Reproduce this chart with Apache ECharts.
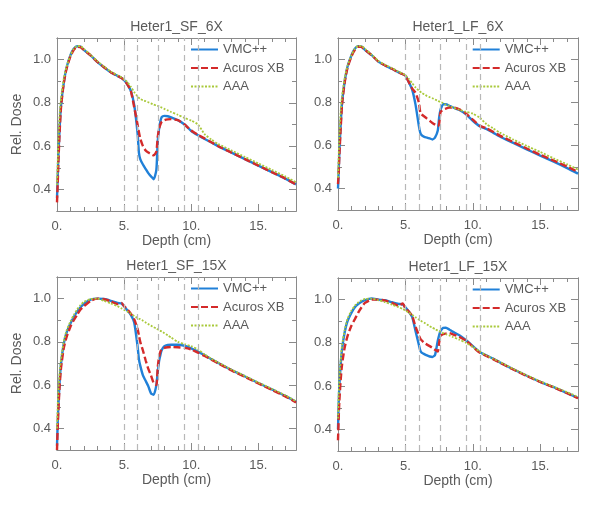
<!DOCTYPE html>
<html>
<head>
<meta charset="utf-8">
<script src="https://cdn.jsdelivr.net/npm/echarts@6/dist/echarts.min.js"></script>
<style>
  html, body { margin: 0; background: #fff; }
  #chart { width: 600px; height: 508px; }
</style>
</head>
<body>
<div id="chart"></div>
<script>
// depth grid (cm) shared by every curve
const depth = [0, 0.05, 0.1, 0.2, 0.3, 0.5, 0.7, 1.0, 1.25, 1.5, 1.75, 2.0, 2.5, 3.0, 3.5, 4.0, 4.5, 4.8, 5.0, 5.25,
  5.5, 5.75, 6.0, 6.1, 6.2, 6.4, 6.6, 6.8, 7.0, 7.2, 7.4, 7.5, 7.6, 7.7, 7.8, 8.0, 8.25, 8.5, 9.0, 9.5,
  10.0, 10.5, 11.0, 11.5, 12, 13, 14, 15, 16, 17, 17.8]

// Heter1_SF_6X
const sf6Vmc = [0.36, 0.45, 0.55, 0.69, 0.79, 0.89, 0.96, 1.02, 1.05, 1.062, 1.06, 1.045, 1.02, 0.99, 0.965, 0.942, 0.925, 0.915, 0.905, 0.885,
  0.855, 0.79, 0.66, 0.57, 0.54, 0.515, 0.495, 0.475, 0.46, 0.447, 0.49, 0.62, 0.68, 0.715, 0.735, 0.74, 0.738, 0.733, 0.72, 0.70,
  0.67, 0.65, 0.633, 0.617, 0.60, 0.57, 0.54, 0.51, 0.48, 0.45, 0.423]
const sf6Acuros = [0.34, 0.42, 0.52, 0.67, 0.78, 0.89, 0.955, 1.015, 1.045, 1.06, 1.058, 1.045, 1.02, 0.99, 0.965, 0.942, 0.925, 0.915, 0.905, 0.885,
  0.855, 0.78, 0.70, 0.665, 0.635, 0.60, 0.58, 0.57, 0.563, 0.557, 0.575, 0.64, 0.68, 0.70, 0.712, 0.72, 0.724, 0.725, 0.72, 0.70,
  0.672, 0.652, 0.635, 0.618, 0.60, 0.57, 0.54, 0.51, 0.48, 0.45, 0.423]
const sf6Aaa = [0.42, 0.52, 0.62, 0.75, 0.82, 0.91, 0.965, 1.02, 1.05, 1.063, 1.062, 1.05, 1.022, 0.993, 0.968, 0.945, 0.928, 0.918, 0.91, 0.895,
  0.875, 0.85, 0.83, 0.823, 0.818, 0.812, 0.808, 0.803, 0.798, 0.792, 0.788, 0.786, 0.784, 0.781, 0.778, 0.772, 0.765, 0.758, 0.745, 0.73,
  0.718, 0.70, 0.655, 0.63, 0.61, 0.58, 0.55, 0.52, 0.49, 0.46, 0.433]

// Heter1_LF_6X
const lf6Vmc = [0.40, 0.48, 0.57, 0.70, 0.80, 0.90, 0.965, 1.02, 1.05, 1.062, 1.06, 1.045, 1.02, 0.99, 0.972, 0.957, 0.94, 0.932, 0.925, 0.895,
  0.86, 0.79, 0.69, 0.66, 0.648, 0.64, 0.637, 0.633, 0.628, 0.638, 0.67, 0.73, 0.765, 0.782, 0.792, 0.792, 0.785, 0.778, 0.765, 0.745,
  0.715, 0.69, 0.677, 0.66, 0.642, 0.612, 0.582, 0.553, 0.525, 0.495, 0.469]
const lf6Acuros = [0.42, 0.47, 0.55, 0.68, 0.79, 0.895, 0.96, 1.015, 1.045, 1.06, 1.058, 1.045, 1.02, 0.99, 0.972, 0.957, 0.94, 0.932, 0.925, 0.895,
  0.865, 0.845, 0.80, 0.755, 0.745, 0.735, 0.725, 0.715, 0.705, 0.697, 0.69, 0.70, 0.755, 0.762, 0.767, 0.772, 0.776, 0.777, 0.768, 0.748,
  0.72, 0.692, 0.68, 0.664, 0.646, 0.616, 0.586, 0.557, 0.53, 0.502, 0.477]
const lf6Aaa = [0.45, 0.55, 0.64, 0.76, 0.83, 0.915, 0.97, 1.02, 1.05, 1.063, 1.062, 1.05, 1.022, 0.993, 0.975, 0.96, 0.943, 0.934, 0.927, 0.91,
  0.89, 0.87, 0.855, 0.85, 0.845, 0.838, 0.83, 0.825, 0.82, 0.814, 0.808, 0.805, 0.802, 0.8, 0.797, 0.79, 0.784, 0.778, 0.766, 0.757,
  0.748, 0.73, 0.70, 0.68, 0.66, 0.628, 0.598, 0.57, 0.54, 0.512, 0.488]

// Heter1_SF_15X
const sf15Vmc = [0.32, 0.42, 0.50, 0.62, 0.70, 0.79, 0.84, 0.885, 0.915, 0.94, 0.96, 0.975, 0.995, 1.0, 0.998, 0.99, 0.98, 0.978, 0.965, 0.945,
  0.925, 0.89, 0.78, 0.72, 0.69, 0.645, 0.62, 0.595, 0.562, 0.555, 0.60, 0.66, 0.71, 0.74, 0.762, 0.78, 0.786, 0.787, 0.787, 0.782,
  0.77, 0.755, 0.738, 0.72, 0.703, 0.67, 0.64, 0.61, 0.58, 0.55, 0.522]
const sf15Acuros = [0.30, 0.40, 0.48, 0.60, 0.68, 0.77, 0.82, 0.87, 0.90, 0.925, 0.95, 0.965, 0.99, 1.0, 0.997, 0.988, 0.975, 0.98, 0.965, 0.95,
  0.93, 0.905, 0.86, 0.83, 0.80, 0.76, 0.715, 0.675, 0.645, 0.61, 0.60, 0.68, 0.73, 0.755, 0.765, 0.772, 0.775, 0.776, 0.775, 0.772,
  0.765, 0.75, 0.735, 0.718, 0.701, 0.668, 0.638, 0.608, 0.578, 0.548, 0.52]
const sf15Aaa = [0.40, 0.50, 0.57, 0.66, 0.72, 0.80, 0.85, 0.895, 0.925, 0.95, 0.97, 0.985, 0.998, 1.0, 0.99, 0.978, 0.965, 0.955, 0.948, 0.94,
  0.93, 0.92, 0.91, 0.907, 0.905, 0.898, 0.89, 0.882, 0.875, 0.868, 0.862, 0.858, 0.855, 0.851, 0.848, 0.84, 0.83, 0.82, 0.80, 0.79,
  0.78, 0.765, 0.742, 0.722, 0.705, 0.672, 0.642, 0.612, 0.583, 0.553, 0.525]

// Heter1_LF_15X
const lf15Vmc = [0.40, 0.52, 0.60, 0.70, 0.77, 0.85, 0.90, 0.94, 0.965, 0.98, 0.99, 0.998, 1.005, 1.0, 0.997, 0.988, 0.98, 0.978, 0.965, 0.945,
  0.92, 0.855, 0.79, 0.765, 0.755, 0.748, 0.742, 0.737, 0.735, 0.745, 0.81, 0.835, 0.855, 0.863, 0.869, 0.87, 0.862, 0.852, 0.835, 0.812,
  0.785, 0.758, 0.742, 0.727, 0.71, 0.678, 0.648, 0.62, 0.595, 0.568, 0.545]
const lf15Acuros = [0.35, 0.45, 0.53, 0.63, 0.70, 0.78, 0.83, 0.88, 0.91, 0.94, 0.965, 0.985, 1.0, 1.0, 0.995, 0.985, 0.972, 0.982, 0.96, 0.945,
  0.925, 0.875, 0.835, 0.82, 0.812, 0.80, 0.792, 0.785, 0.777, 0.768, 0.76, 0.80, 0.83, 0.837, 0.84, 0.843, 0.845, 0.84, 0.828, 0.81,
  0.782, 0.755, 0.74, 0.725, 0.709, 0.677, 0.647, 0.619, 0.594, 0.567, 0.544]
const lf15Aaa = [0.45, 0.56, 0.63, 0.72, 0.79, 0.86, 0.91, 0.95, 0.972, 0.987, 0.997, 1.003, 1.005, 0.997, 0.988, 0.977, 0.965, 0.957, 0.95, 0.94,
  0.93, 0.918, 0.908, 0.904, 0.9, 0.893, 0.885, 0.877, 0.87, 0.864, 0.857, 0.854, 0.85, 0.848, 0.845, 0.84, 0.835, 0.828, 0.815, 0.80,
  0.782, 0.76, 0.742, 0.727, 0.712, 0.68, 0.65, 0.622, 0.597, 0.572, 0.55]

const panelTitles = ['Heter1_SF_6X', 'Heter1_LF_6X', 'Heter1_SF_15X', 'Heter1_LF_15X']
const seriesNames = ['VMC++', 'Acuros XB', 'AAA']
const slabEdges = [5, 6, 7.55, 9.5, 10.55]
const xMajorTicks = [0, 5, 10, 15]
const xMinorTicks = [1, 2, 3, 4, 6, 7, 8, 9, 11, 12, 13, 14, 16, 17]
const yMajorTicks = [0.4, 0.6, 0.8, 1.0]
const yMinorTicks = [0.5, 0.7, 0.9]
const xMax = 17.8

const panelData = [
  [sf6Vmc, sf6Acuros, sf6Aaa],
  [lf6Vmc, lf6Acuros, lf6Aaa],
  [sf15Vmc, sf15Acuros, sf15Aaa],
  [lf15Vmc, lf15Acuros, lf15Aaa],
]

const fontFamily = 'Liberation Sans, Arial, sans-serif'
const textColor = '#5a5a5a'
const axisColor = '#8a8a8a'

const grids = [
  { left: 57, top: 38, width: 239, height: 173 },
  { left: 338, top: 38, width: 240, height: 172 },
  { left: 57, top: 277, width: 239, height: 173 },
  { left: 338, top: 278, width: 240, height: 173 },
]

const lineStyles = [
  { color: '#2080d8', width: 2.4, type: 'solid' },
  { color: '#d42a2a', width: 2.4, type: [7, 3] },
  { color: '#a9c93a', width: 1.8, type: [2, 1.5] },
]

function makeAxis(dim, gridIndex, position, ticks, tickLen, withLabels, name) {
  const isX = dim === 'x'
  return {
    type: 'value',
    gridIndex,
    position,
    min: isX ? 0 : 0.3,
    max: isX ? xMax : 1.1,
    name: name || '',
    nameLocation: 'middle',
    nameGap: isX ? 19 : 33,
    nameRotate: isX ? 0 : 90,
    nameTextStyle: { color: textColor, fontSize: 14, fontFamily },
    axisLine: { show: true, onZero: false, lineStyle: { color: axisColor, width: 1 } },
    axisTick: { show: true, inside: true, length: tickLen, customValues: ticks, lineStyle: { color: axisColor, width: 1 } },
    axisLabel: withLabels
      ? {
          show: true,
          customValues: ticks,
          margin: isX ? 9 : 6,
          color: textColor,
          fontSize: 13,
          fontFamily,
          formatter: isX ? v => v + '.' : v => v.toFixed(1),
        }
      : { show: false },
    splitLine: { show: false },
  }
}

const xAxis = []
const yAxis = []
const series = []
const legend = []
const graphic = []

grids.forEach((g, i) => {
  const isLeft = i % 2 === 0
  xAxis.push(
    makeAxis('x', i, 'bottom', xMajorTicks, 7, true, 'Depth (cm)'),
    makeAxis('x', i, 'bottom', xMinorTicks, 4, false),
    makeAxis('x', i, 'top', xMajorTicks, 7, false),
    makeAxis('x', i, 'top', xMinorTicks, 4, false)
  )
  yAxis.push(
    makeAxis('y', i, 'left', yMajorTicks, 7, true, isLeft ? 'Rel. Dose' : ''),
    makeAxis('y', i, 'left', yMinorTicks, 4, false),
    makeAxis('y', i, 'right', yMajorTicks, 7, false),
    makeAxis('y', i, 'right', yMinorTicks, 4, false)
  )

  // slab boundaries
  series.push({
    type: 'line',
    name: 'slabs',
    xAxisIndex: i * 4,
    yAxisIndex: i * 4,
    data: [],
    z: 1,
    silent: true,
    markLine: {
      silent: true,
      symbol: ['none', 'none'],
      label: { show: false },
      lineStyle: { color: '#b8b8b8', width: 1.2, type: [6, 4] },
      data: slabEdges.map(x => ({ xAxis: x })),
    },
  })

  panelData[i].forEach((vals, k) => {
    series.push({
      type: 'line',
      name: seriesNames[k],
      xAxisIndex: i * 4,
      yAxisIndex: i * 4,
      data: depth.map((d, j) => [d, vals[j]]),
      symbol: 'none',
      smooth: 0.2,
      clip: true,
      z: 2 + k,
      lineStyle: lineStyles[k],
      itemStyle: { color: lineStyles[k].color },
    })
  })

  legend.push({
    data: seriesNames,
    orient: 'vertical',
    left: g.left + (isLeft ? 133 : 133.7),
    top: g.top + 5,
    padding: 0,
    itemWidth: 27,
    itemHeight: 14,
    itemGap: 5.5,
    selectedMode: false,
    itemStyle: { opacity: 0 },
    textStyle: { color: textColor, fontSize: 13, fontFamily },
  })

  graphic.push({
    type: 'text',
    x: g.left + g.width / 2,
    y: g.top - 11,
    style: {
      text: panelTitles[i],
      align: 'center',
      verticalAlign: 'middle',
      fill: textColor,
      font: '14px ' + fontFamily,
    },
  })
})

const chart = echarts.init(document.getElementById('chart'))
chart.setOption({
  animation: false,
  backgroundColor: '#fff',
  grid: grids,
  xAxis,
  yAxis,
  series,
  legend,
  graphic,
})
</script>
</body>
</html>
